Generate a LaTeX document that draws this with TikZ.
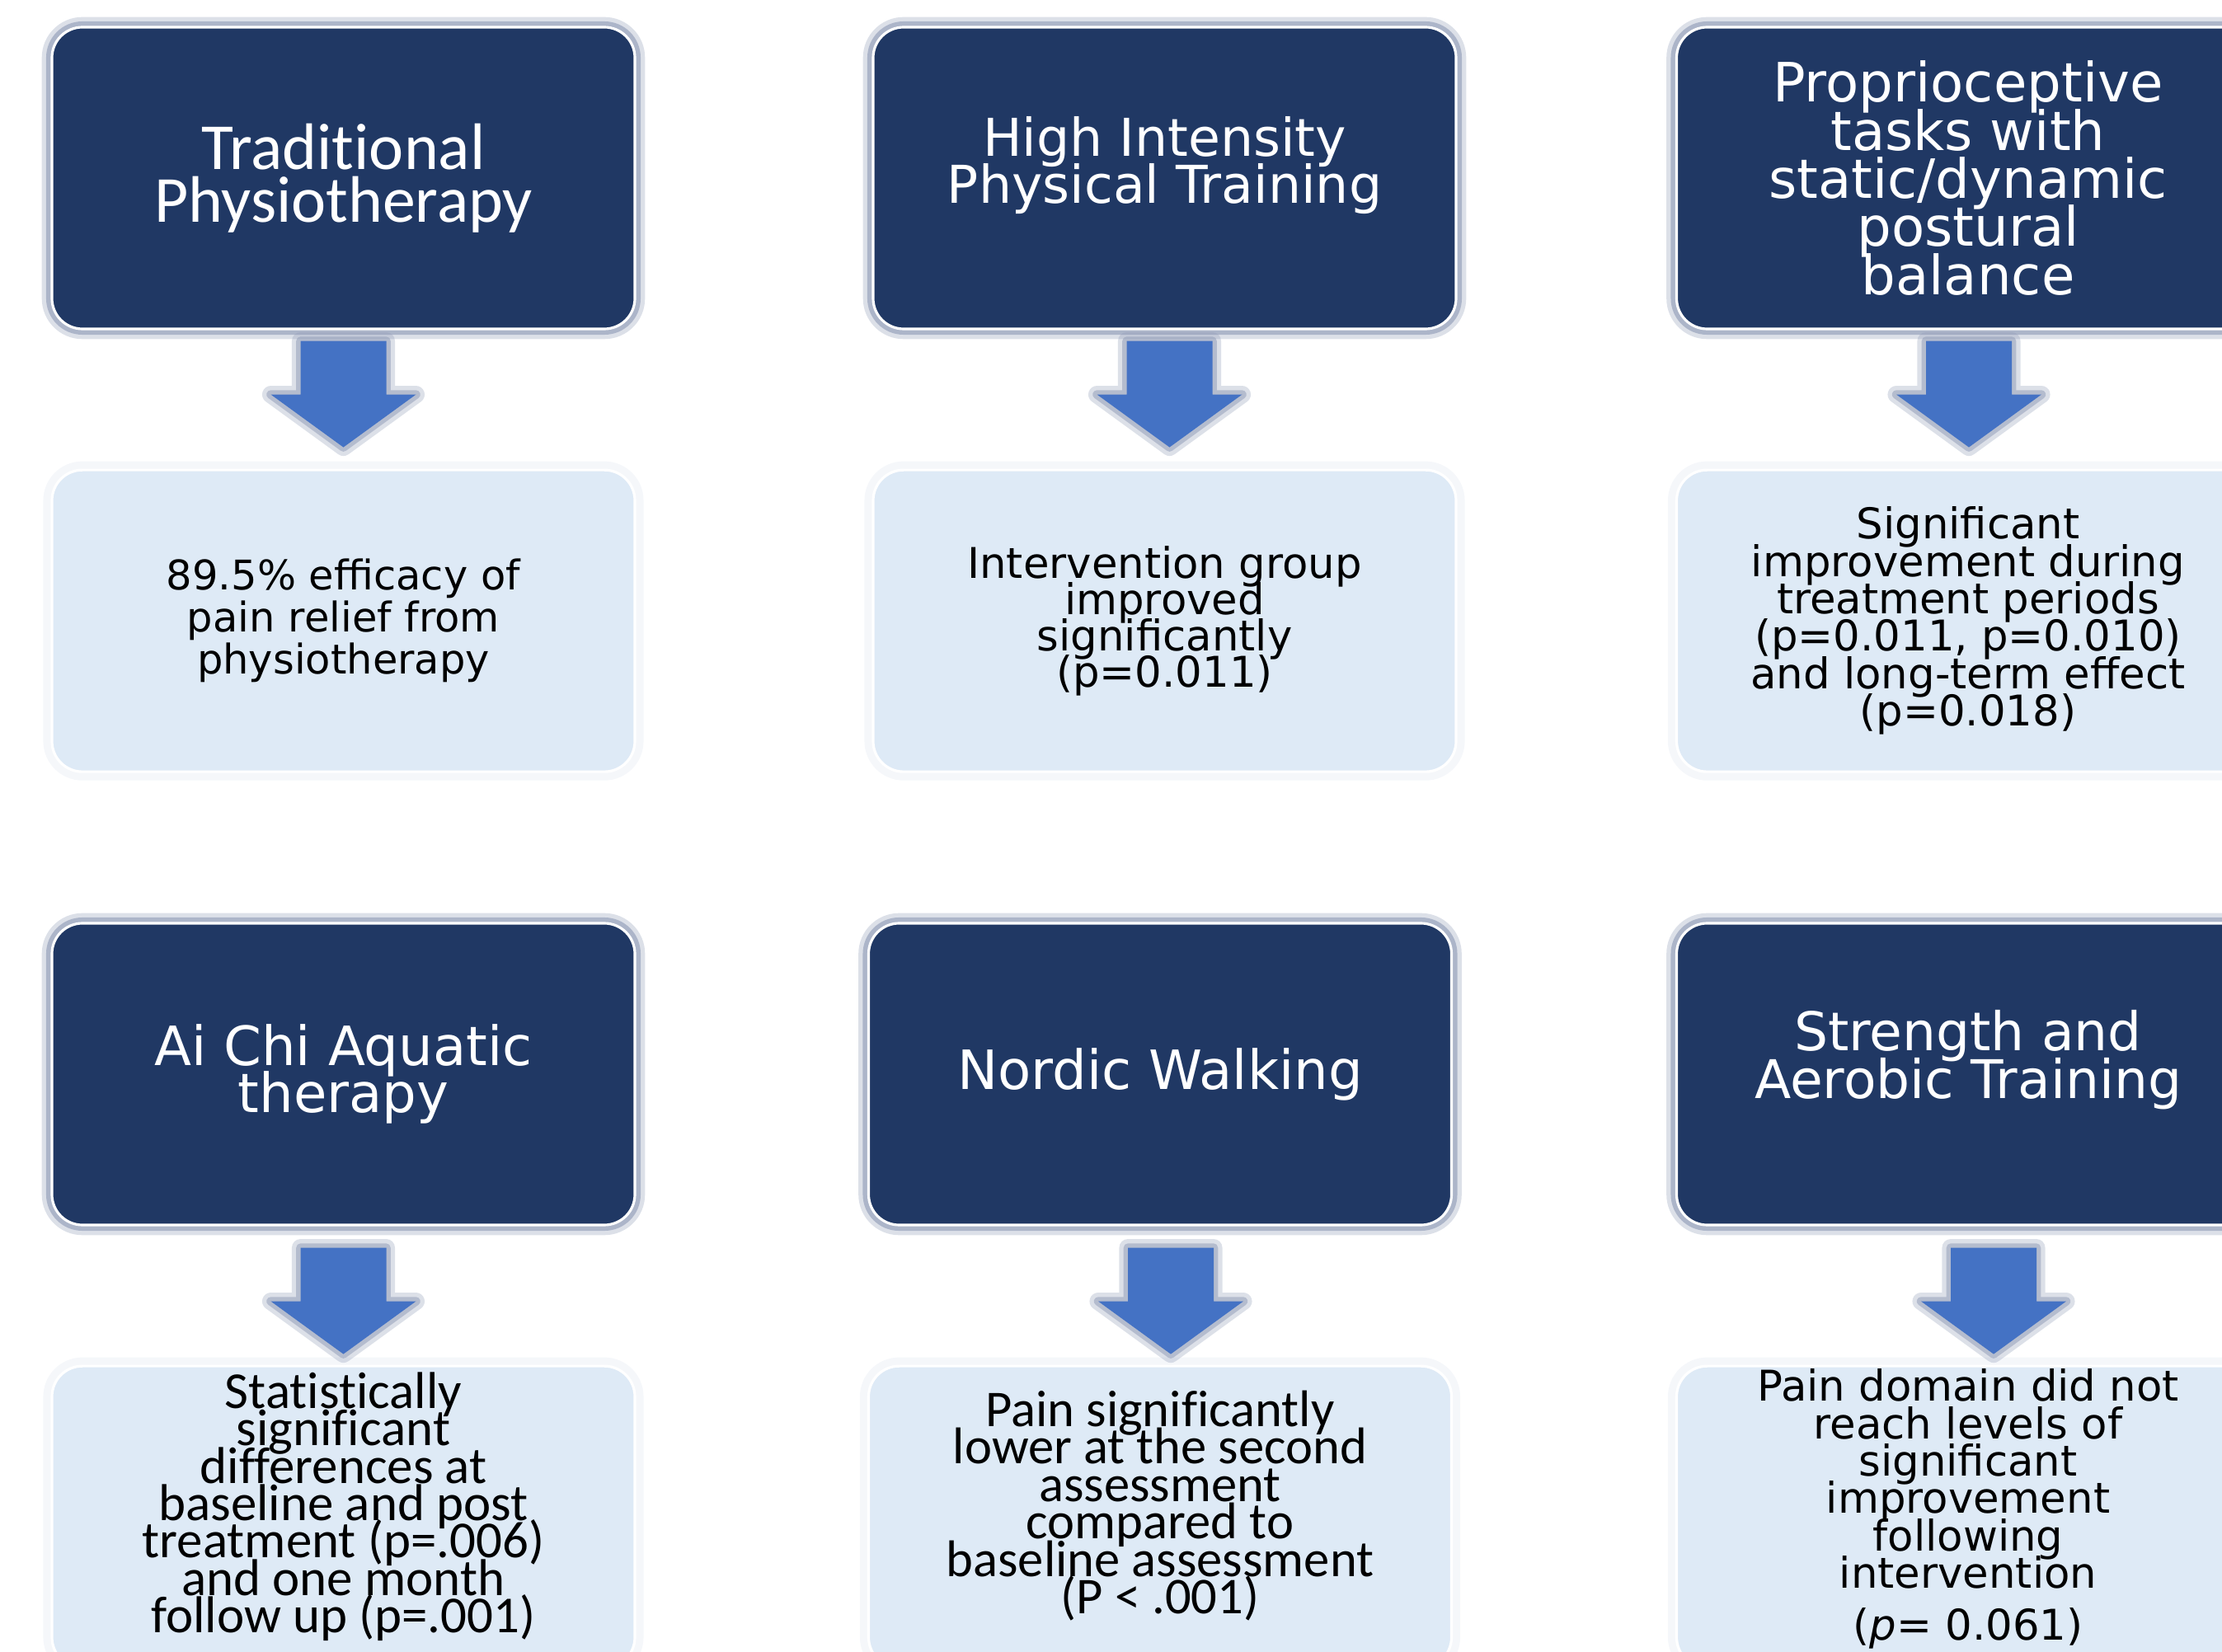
\documentclass[tikz,border=0pt]{standalone}
\usepackage{fontspec}
\newfontfamily\verd{DejaVu Sans}
\newfontfamily\cali[Ligatures={NoCommon}, Contextuals={NoAlternate}]{Carlito}
\usetikzlibrary{positioning}

\definecolor{navy}{RGB}{32,56,100}
\definecolor{paleblue}{RGB}{222,234,246}
\definecolor{arrowblue}{RGB}{68,114,196}
\definecolor{glow}{RGB}{140,152,180}
\definecolor{paleglow}{RGB}{215,222,235}

% font family, size, line spacing
\newcommand\boxfont[3]{#1\fontsize{#2}{#3}\selectfont\lineskiplimit=-\maxdimen\lineskip=0pt}

\tikzset{
  darkbox/.style={rectangle, rounded corners=0.37cm, fill=navy, draw=white, line width=0.9pt,
    minimum width=7.07cm, minimum height=3.66cm, inner sep=0pt, text=white, align=center,
    preaction={draw=glow, line width=7pt, opacity=.3},
    preaction={draw=glow, line width=4pt, opacity=.6}},
  lightbox/.style={rectangle, rounded corners=0.37cm, fill=paleblue, draw=white, line width=0.9pt,
    minimum width=7.07cm, minimum height=3.66cm, inner sep=0pt, text=black, align=center,
    preaction={draw=paleglow, line width=6pt, opacity=.25}},
  blockarrow/.style={fill=arrowblue, line join=round,
    preaction={draw=glow, line width=6pt, opacity=.3, line join=round},
    preaction={draw=glow, line width=3pt, opacity=.5, line join=round}},
  downarrow/.pic={
    \path[blockarrow] (-0.52,0) -- (0.52,0) -- (0.52,-0.65) -- (0.88,-0.65) -- (0,-1.29)
      -- (-0.88,-0.65) -- (-0.52,-0.65) -- cycle;
  },
  node distance=1.68cm
}

\begin{document}
\begin{tikzpicture}
\useasboundingbox (0,0) rectangle (26.95,-20.04);
\clip (0,0) rectangle (26.95,-20.04);

% top row
\node[darkbox, font={\boxfont{\cali}{22.7pt}{18.2pt}}] (d1) at (4.165,-2.16) {Traditional\\Physiotherapy};
\node[darkbox, font={\boxfont{\verd}{18pt}{16.2pt}}] (d2) at (14.125,-2.16) {High Intensity\\Physical Training\\[-0.12cm]\mbox{}};
\node[darkbox, font={\boxfont{\verd}{18.7pt}{16.6pt}}] (d3) at (23.87,-2.16) {Proprioceptive\\tasks with\\static/dynamic\\postural\\balance};

\node[lightbox, below=of d1, font={\boxfont{\verd}{14.1pt}{14.5pt}}] (r1) {89.5\% efficacy of\\pain relief from\\physiotherapy};
\node[lightbox, below=of d2, font={\boxfont{\verd}{14.6pt}{12.5pt}}] (r2) {Intervention group\\improved\\significantly\\(p=0.011)};
\node[lightbox, below=of d3, font={\boxfont{\verd}{14.6pt}{12.9pt}}] (r3) {Significant\\improvement during\\treatment periods\\(p=0.011, p=0.010)\\and long-term effect\\(p=0.018)};

\pic at ([yshift=-0.13cm]d1.south) {downarrow};
\pic at ([xshift=0.06cm, yshift=-0.13cm]d2.south) {downarrow};
\pic at ([xshift=0.01cm, yshift=-0.13cm]d3.south) {downarrow};

% bottom row
\node[darkbox, font={\boxfont{\verd}{18.7pt}{16.2pt}}] (d4) at (4.165,-13.03) {Ai Chi Aquatic\\therapy};
\node[darkbox, font={\boxfont{\verd}{18.7pt}{16.2pt}}] (d5) at (14.07,-13.03) {Nordic Walking};
\node[darkbox, font={\boxfont{\verd}{18.4pt}{16.4pt}}] (d6) at (23.87,-13.03) {Strength and\\Aerobic Training\\[-0.1cm]\mbox{}};

\node[lightbox, below=of d4, font={\boxfont{\cali}{17.9pt}{12.9pt}}] (r4) {Statistically\\significant\\differences at\\baseline and post\\treatment (p=.006)\\and one month\\follow up (p=.001)\\[-0.1cm]\mbox{}};
\node[lightbox, below=of d5, font={\boxfont{\cali}{17.8pt}{12.95pt}}] (r5) {Pain significantly\\lower at the second\\assessment\\compared to\\baseline assessment\\(P < .001)\\[-0.1cm]\mbox{}};
\node[lightbox, below=of d6, font={\boxfont{\verd}{14.6pt}{12.9pt}}] (r6) {Pain domain did not\\reach levels of\\significant\\improvement\\following\\intervention\\[0.17cm](\textit{p}= 0.061)\\[-0.15cm]\mbox{}};

\pic at ([yshift=-0.26cm]d4.south) {downarrow};
\pic at ([xshift=0.13cm, yshift=-0.26cm]d5.south) {downarrow};
\pic at ([xshift=0.31cm, yshift=-0.26cm]d6.south) {downarrow};
\end{tikzpicture}
\end{document}
